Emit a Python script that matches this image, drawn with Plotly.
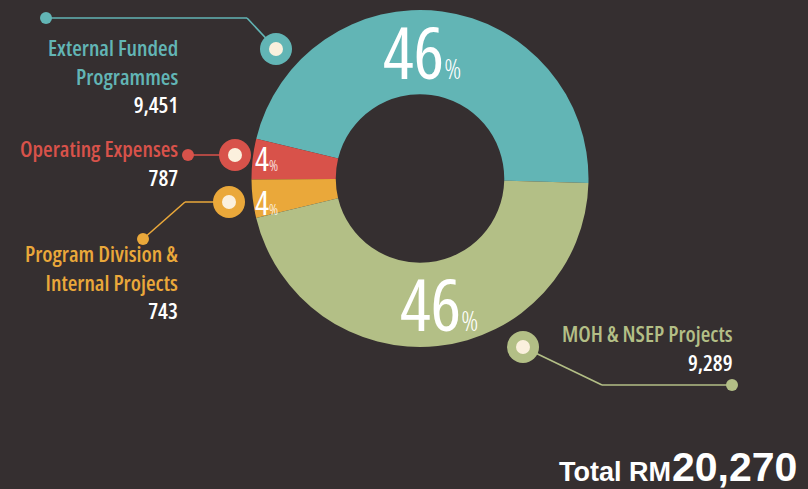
import plotly.graph_objects as go

# ---- data ----
categories = ["External Funded Programmes", "Operating Expenses",
              "Program Division & Internal Projects", "MOH & NSEP Projects"]
label_lines = [["External Funded", "Programmes"], ["Operating Expenses"],
               ["Program Division &", "Internal Projects"], ["MOH & NSEP Projects"]]
values = [9451, 787, 743, 9289]
percent_labels = [46, 4, 4, 46]
colors = ["#62b5b5", "#d8524a", "#eaa83a", "#b3bf86"]

total = sum(values)

W, H = 808, 489
BG = "#352f30"
CREAM = "#fbf0dd"
COND = "Open Sans, sans-serif"


def px(x):
    return x / W


def py(y):
    return 1 - y / H


def cond(t, weight=600, size=None, extra=""):
    fs = f"font-size:{size}px;" if size else ""
    return f"<span style='font-stretch:75%;font-weight:{weight};{fs}{extra}'>{t}</span>"


cx, cy, R = 420, 178.5, 168.5

fig = go.Figure(go.Pie(
    labels=categories, values=values, hole=0.5, sort=False,
    direction="counterclockwise", rotation=-76.35,
    marker=dict(colors=colors, line=dict(width=0)),
    textinfo="none", hoverinfo="label+value",
    domain=dict(x=[px(cx - R), px(cx + R)], y=[py(cy + R), py(cy - R)]),
    showlegend=False,
))

shapes = []
annotations = []

# percentages inside the ring: x center, y center, number size, % size
pct_pos = [(422, 51, 72, 28), (266, 158, 33, 15), (266, 202, 33, 15), (439, 303, 72, 28)]
for p, (x, y, big, small) in zip(percent_labels, pct_pos):
    annotations.append(dict(
        x=px(x), y=py(y), xref="paper", yref="paper", showarrow=False,
        xanchor="center", yanchor="middle",
        text=cond(p, 400) + cond("%", 300, small),
        font=dict(family=COND, size=big, color="white"),
    ))

callouts = [
    [(46, 18), (247, 18), (276, 49)],
    [(188, 155), (235, 155)],
    [(143, 239), (185, 202), (229, 202)],
    [(732, 385), (602, 385), (523, 347)],
]
for pts, col in zip(callouts, colors):
    for (x0, y0), (x1, y1) in zip(pts[:-1], pts[1:]):
        shapes.append(dict(type="line", xref="paper", yref="paper",
                           x0=px(x0), y0=py(y0), x1=px(x1), y1=py(y1),
                           line=dict(color=col, width=1.6)))
    ex, ey = pts[0]
    r = 6
    shapes.append(dict(type="circle", xref="paper", yref="paper",
                       x0=px(ex - r), x1=px(ex + r), y0=py(ey + r), y1=py(ey - r),
                       fillcolor=col, line=dict(width=0)))
    rx, ry = pts[-1]
    r = 16
    shapes.append(dict(type="circle", xref="paper", yref="paper",
                       x0=px(rx - r), x1=px(rx + r), y0=py(ry + r), y1=py(ry - r),
                       fillcolor=col, line=dict(width=0)))
    r = 7
    shapes.append(dict(type="circle", xref="paper", yref="paper",
                       x0=px(rx - r), x1=px(rx + r), y0=py(ry + r), y1=py(ry - r),
                       fillcolor=CREAM, line=dict(width=0)))

# label blocks: right edge x, block center y
label_pos = [(180, 75), (180, 163), (180, 281), (735, 347.5)]
for lines, v, col, (rx, yc) in zip(label_lines, values, colors, label_pos):
    body = "<br>".join(cond(t, 600) for t in lines)
    body += "<br>" + cond(f"{v:,}", 600, None, "fill:#ffffff")
    annotations.append(dict(x=px(rx), y=py(yc), xref="paper", yref="paper",
                            showarrow=False, xanchor="right", yanchor="middle",
                            align="right", text=body,
                            font=dict(family=COND, size=22, color=col)))

annotations.append(dict(
    x=px(799), y=py(489), xref="paper", yref="paper", showarrow=False,
    xanchor="right", yanchor="bottom", text=f"<b>{total:,}</b>", yshift=-3,
    font=dict(family="Liberation Sans, Arial, sans-serif", size=41, color="white"),
))
annotations.append(dict(
    x=px(673), y=py(485), xref="paper", yref="paper", showarrow=False,
    xanchor="right", yanchor="bottom", text="<b>Total RM</b>", yshift=-4,
    font=dict(family="Liberation Sans, Arial, sans-serif", size=27, color="white"),
))

fig.update_layout(
    width=W, height=H, margin=dict(l=0, r=0, t=0, b=0),
    paper_bgcolor=BG, plot_bgcolor=BG,
    shapes=shapes, annotations=annotations,
)
fig.write_html("out.html", config={"displayModeBar": False},
               post_script="document.body.style.margin='0';document.body.style.overflow='hidden';")
